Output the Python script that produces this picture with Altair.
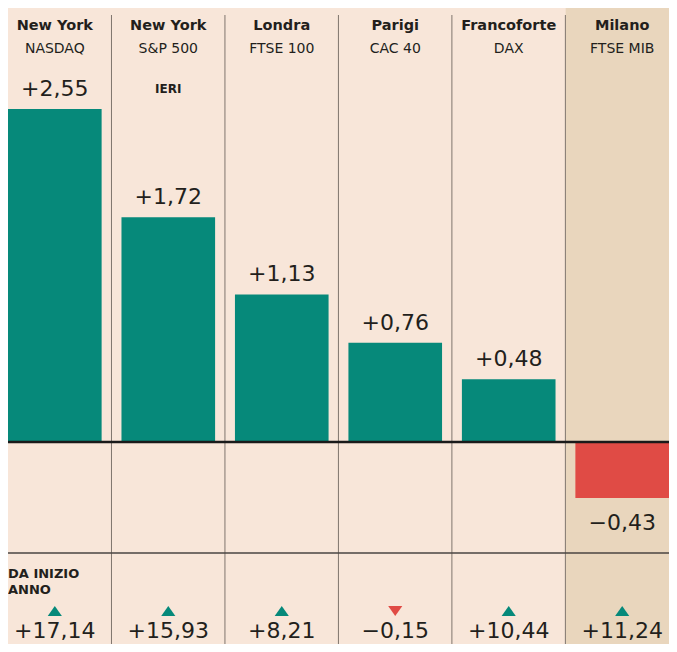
import altair as alt
import pandas as pd

# ---- data ----
cities = ["New York", "New York", "Londra", "Parigi", "Francoforte", "Milano"]
indices = ["NASDAQ", "S&P 500", "FTSE 100", "CAC 40", "DAX", "FTSE MIB"]
day_change = [2.55, 1.72, 1.13, 0.76, 0.48, -0.43]
ytd_change = [17.14, 15.93, 8.21, -0.15, 10.44, 11.24]
day_note = ["", "IERI", "", "", "", ""]
ytd_title = ["DA INIZIO", "ANNO"]
highlight_index = "FTSE MIB"


def fmt(v):
    s = f"{v:+.2f}".replace(".", ",")
    return s.replace("-", "\u2212")


df = pd.DataFrame({
    "key": indices,
    "city": cities,
    "value": day_change,
    "ytd": ytd_change,
    "note": day_note,
    "pos": list(range(len(indices))),
})
df["label"] = [fmt(v) for v in df["value"]]
df["ytd_label"] = [fmt(v) for v in df["ytd"]]

W, H = 661, 636
BG = "#F8E6D9"
HIGHLIGHT = "#E9D6BD"
TEAL = "#06897A"
RED = "#E04B45"
INK = "#231F1C"
SEP = "#7F756D"
FONT = "DejaVu Sans"

xs = alt.Scale(domain=indices, paddingInner=0.175, paddingOuter=0)
ys = alt.Scale(domain=[-1.547, 3.323], nice=False, zero=False)
X = alt.X("key:N", scale=xs, axis=None)
Y = alt.Y("value:Q", scale=ys, axis=None)

base = alt.Chart(df)

highlight = base.transform_filter(
    alt.datum.key == highlight_index
).mark_bar(width=113, color=HIGHLIGHT).encode(
    x=X, y=alt.value(0), y2=alt.value(H)
)

separators = base.transform_filter("datum.pos > 0").mark_rule(
    xOffset=-10, color=SEP, strokeWidth=1
).encode(
    x=alt.X("key:N", scale=xs, axis=None, bandPosition=0),
    y=alt.value(7), y2=alt.value(H)
)

bars = base.mark_bar().encode(
    x=X, y=Y, y2=alt.datum(0),
    color=alt.condition("datum.value > 0", alt.value(TEAL), alt.value(RED)),
)

zero_line = alt.Chart(pd.DataFrame({"z": [0]})).mark_rule(
    color="#1A1A1A", strokeWidth=2.5
).encode(y=alt.Y("z:Q", scale=ys, axis=None), x=alt.value(0), x2=alt.value(W))

bottom_line = alt.Chart(pd.DataFrame({"z": [0]})).mark_rule(
    color="#4A4542", strokeWidth=1.5
).encode(y=alt.value(545), x=alt.value(0), x2=alt.value(W))

pos_labels = base.transform_filter("datum.value > 0").mark_text(
    font=FONT, fontSize=22, color=INK, baseline="alphabetic", dy=-13
).encode(x=X, y=Y, text="label:N")

neg_labels = base.transform_filter("datum.value < 0").mark_text(
    font=FONT, fontSize=22, color=INK, baseline="alphabetic", dy=32
).encode(x=X, y=Y, text="label:N")

city_text = base.mark_text(
    font=FONT, fontSize=14.5, fontWeight="bold", color=INK, baseline="alphabetic"
).encode(x=X, y=alt.value(22), text="city:N")

index_text = base.mark_text(
    font=FONT, fontSize=14, color=INK, baseline="alphabetic"
).encode(x=X, y=alt.value(45), text="key:N")

note_text = base.mark_text(
    font=FONT, fontSize=12, fontWeight="bold", color=INK, baseline="alphabetic"
).encode(x=X, y=alt.value(85), text="note:N")

ytd_title_text = alt.Chart(pd.DataFrame({"t": [ytd_title]})).mark_text(
    font=FONT, fontSize=13, fontWeight="bold", color=INK, align="left",
    baseline="alphabetic", lineHeight=16
).encode(x=alt.value(0), y=alt.value(570), text="t")

UP = "M-1,0.7L1,0.7L0,-0.7Z"
DOWN = "M-1,-0.7L1,-0.7L0,0.7Z"
triangles = base.mark_point(filled=True, opacity=1, size=200, strokeWidth=0).encode(
    x=X, y=alt.value(603),
    shape=alt.condition("datum.ytd > 0", alt.value(UP), alt.value(DOWN)),
    color=alt.condition("datum.ytd > 0", alt.value(TEAL), alt.value(RED)),
)

ytd_text = base.mark_text(
    font=FONT, fontSize=22, color=INK, baseline="alphabetic"
).encode(x=X, y=alt.value(630), text="ytd_label:N")

chart = alt.layer(
    highlight, separators, bars, zero_line, bottom_line,
    pos_labels, neg_labels, city_text, index_text, note_text,
    ytd_title_text, triangles, ytd_text,
).properties(
    width=W, height=H, padding=0, background=BG,
    autosize=alt.AutoSizeParams(type="none"),
).configure_view(stroke=None)

chart.save("out.html", embed_options={"renderer": "svg", "actions": False})
